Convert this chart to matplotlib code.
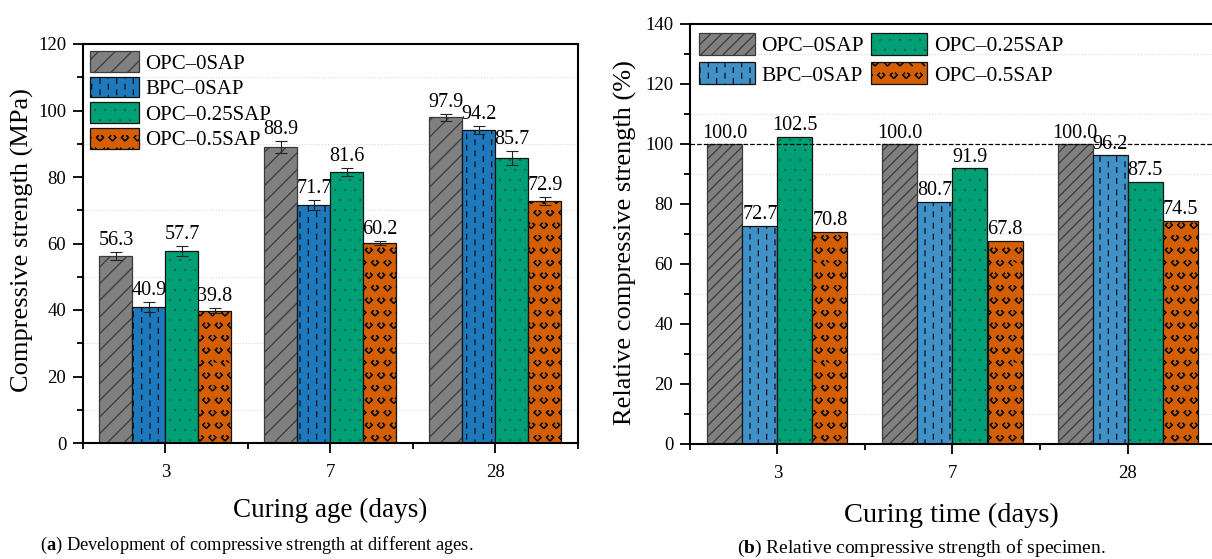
import warnings
import numpy as np
import matplotlib
matplotlib.use("Agg")
import matplotlib.pyplot as plt
import matplotlib.hatch as mhatch
from matplotlib.path import Path as MPath
from matplotlib.ticker import MultipleLocator, FixedLocator

warnings.filterwarnings("ignore")

# ── data ──────────────────────────────────────────────
days = ["3", "7", "28"]
series = ["OPC–0SAP", "BPC–0SAP", "OPC–0.25SAP", "OPC–0.5SAP"]

# (a) compressive strength, MPa
opc_0 = [56.3, 88.9, 97.9]
bpc_0 = [40.9, 71.7, 94.2]
opc_025 = [57.7, 81.6, 85.7]
opc_05 = [39.8, 60.2, 72.9]
opc_0_err = [1.2, 1.8, 1.0]
bpc_0_err = [1.5, 1.5, 1.2]
opc_025_err = [1.5, 1.2, 2.0]
opc_05_err = [0.8, 0.7, 1.2]

# (b) relative compressive strength, %
rel_opc_0 = [100.0, 100.0, 100.0]
rel_bpc_0 = [72.7, 80.7, 96.2]
rel_opc_025 = [102.5, 91.9, 87.5]
rel_opc_05 = [70.8, 67.8, 74.5]


# ── custom hatches: short dashes ('k'), chevrons ('c'), fine dots ('d') ──
# (num_rows has to stay even for Shapes)
class DashHatch(mhatch.Shapes):
    size = 1.0
    filled = True
    shape_vertices = np.array([[0.0, -1.0], [0.0, -0.72],
                               [0.0, -0.34], [0.0, -0.06],
                               [0.0, 0.32], [0.0, 0.60]])
    shape_codes = np.array([MPath.MOVETO, MPath.LINETO] * 3, dtype=MPath.code_type)

    def __init__(self, hatch, density):
        self.num_rows = hatch.count("k") * 6
        super().__init__(hatch, density)


class ChevronHatch(mhatch.Shapes):
    size = 1.0
    filled = True
    shape_vertices = np.array([[-0.36, 0.14], [-0.22, 0.0], [-0.36, -0.14], [-0.22, 0.0], [-0.36, 0.14],
                               [0.36, 0.14], [0.22, 0.0], [0.36, -0.14], [0.22, 0.0], [0.36, 0.14]])
    shape_codes = np.array([MPath.MOVETO] + [MPath.LINETO] * 4 +
                           [MPath.MOVETO] + [MPath.LINETO] * 4, dtype=MPath.code_type)

    def __init__(self, hatch, density):
        self.num_rows = hatch.count("c") * 8
        super().__init__(hatch, density)


class DotHatch(mhatch.Shapes):
    size = 1.0
    filled = True
    shape_vertices = np.array([[0.0, 0.0], [0.02, 0.0]])
    shape_codes = np.array([MPath.MOVETO, MPath.LINETO], dtype=MPath.code_type)

    def __init__(self, hatch, density):
        self.num_rows = hatch.count("d") * 10
        super().__init__(hatch, density)


mhatch._hatch_types.extend([DashHatch, ChevronHatch, DotHatch])

plt.rcParams["font.family"] = ["Liberation Serif", "DejaVu Serif"]
plt.rcParams["mathtext.fontset"] = "custom"
plt.rcParams["mathtext.rm"] = "Liberation Serif"
plt.rcParams["mathtext.bf"] = "Liberation Serif:bold"
plt.rcParams["hatch.linewidth"] = 0.9

W, H = 1212, 559
fig = plt.figure(figsize=(W / 100, H / 100), dpi=100)

ax1 = fig.add_axes([83 / W, 1 - 443 / H, (578 - 83) / W, (443 - 44) / H])
ax2 = fig.add_axes([690 / W, 1 - 444 / H, (1215 - 690) / W, (444 - 24) / H])

colors_a = ["#808080", "#1c79bd", "#00a077", "#d45e00"]
colors_b = ["#808080", "#4191c9", "#00a077", "#d45e00"]
edges = ["#3a3a3a", "#111111", "#111111", "#111111"]
hatches_a = ["//", "k", "d", "c"]
hatches_b = ["///", "k", "d", "c"]

x = np.arange(len(days))
bw = 0.2
offsets = [-1.5 * bw, -0.5 * bw, 0.5 * bw, 1.5 * bw]


def style_axes(ax, ymax, ymajor):
    ax.set_xlim(-0.5, 2.5)
    ax.set_ylim(0, ymax)
    ax.set_xticks(x)
    ax.set_xticklabels(days)
    ax.xaxis.set_minor_locator(FixedLocator([-0.5, 0.5, 1.5, 2.5]))
    ax.yaxis.set_major_locator(MultipleLocator(ymajor))
    ax.yaxis.set_minor_locator(MultipleLocator(ymajor / 2))
    ax.tick_params(which="major", direction="out", length=7, width=1.3,
                   labelsize=13.5, pad=5, top=False, right=False)
    ax.tick_params(which="minor", direction="out", length=4, width=1.3,
                   top=False, right=False)
    ax.tick_params(axis="x", which="major", pad=8)
    for s in ax.spines.values():
        s.set_linewidth(1.5)
    ax.set_axisbelow(True)
    ax.grid(axis="y", which="minor", color="#d8d8d8", linestyle=":", linewidth=0.8)


# (a)
vals_a = [opc_0, bpc_0, opc_025, opc_05]
errs_a = [opc_0_err, bpc_0_err, opc_025_err, opc_05_err]
for i in range(4):
    ax1.bar(x + offsets[i], vals_a[i], bw, color=colors_a[i], edgecolor=edges[i],
            linewidth=0.9, hatch=hatches_a[i], label=series[i], zorder=2,
            yerr=errs_a[i], capsize=4,
            error_kw=dict(ecolor="#222222", elinewidth=0.8, capthick=0.8))
    for xi, v, e in zip(x + offsets[i], vals_a[i], errs_a[i]):
        ax1.text(xi, v + e + 0.6, f"{v:.1f}", ha="center", va="bottom", fontsize=14.5)

style_axes(ax1, 120, 20)
ax1.legend(loc="upper left", bbox_to_anchor=(0.0, 1.0), frameon=False, fontsize=15,
           borderpad=0.25, borderaxespad=0.1, handlelength=2.35, handleheight=1.15,
           labelspacing=0.15, handletextpad=0.3)

# (b)
vals_b = [rel_opc_0, rel_bpc_0, rel_opc_025, rel_opc_05]
for i in range(4):
    ax2.bar(x + offsets[i], vals_b[i], bw, color=colors_b[i], edgecolor=edges[i],
            linewidth=0.9, hatch=hatches_b[i], label=series[i], zorder=2)
    for xi, v in zip(x + offsets[i], vals_b[i]):
        ax2.text(xi, v + 0.5, f"{v:.1f}", ha="center", va="bottom", fontsize=14.5)

ax2.axhline(100, color="black", linestyle="--", linewidth=0.9, zorder=3)
style_axes(ax2, 140, 20)
ax2.spines["right"].set_visible(False)
ax2.legend(loc="upper left", bbox_to_anchor=(0.0, 1.0), frameon=False, fontsize=15.5,
           ncol=2, borderpad=0.3, borderaxespad=0.1, handlelength=2.6, handleheight=1.2,
           labelspacing=0.3, handletextpad=0.3, columnspacing=0.35)

# axis titles and captions
fig.text(22 / W, 1 - 240 / H, "Compressive strength (MPa)", rotation=90,
         ha="center", va="center", fontsize=19)
fig.text(330 / W, 1 - 510 / H, "Curing age (days)", ha="center", va="center", fontsize=19.5)
fig.text(625 / W, 1 - 243 / H, "Relative compressive strength (%)", rotation=90,
         ha="center", va="center", fontsize=19)
fig.text(951 / W, 1 - 515 / H, "Curing time (days)", ha="center", va="center", fontsize=20.5)

fig.text(40 / W, 1 - 545 / H, r"($\mathbf{a}$) Development of compressive strength at different ages.",
         ha="left", va="center", fontsize=13.2)
fig.text(921 / W, 1 - 548 / H, r"($\mathbf{b}$) Relative compressive strength of specimen.",
         ha="center", va="center", fontsize=14)

fig.savefig("out.png", dpi=100)
